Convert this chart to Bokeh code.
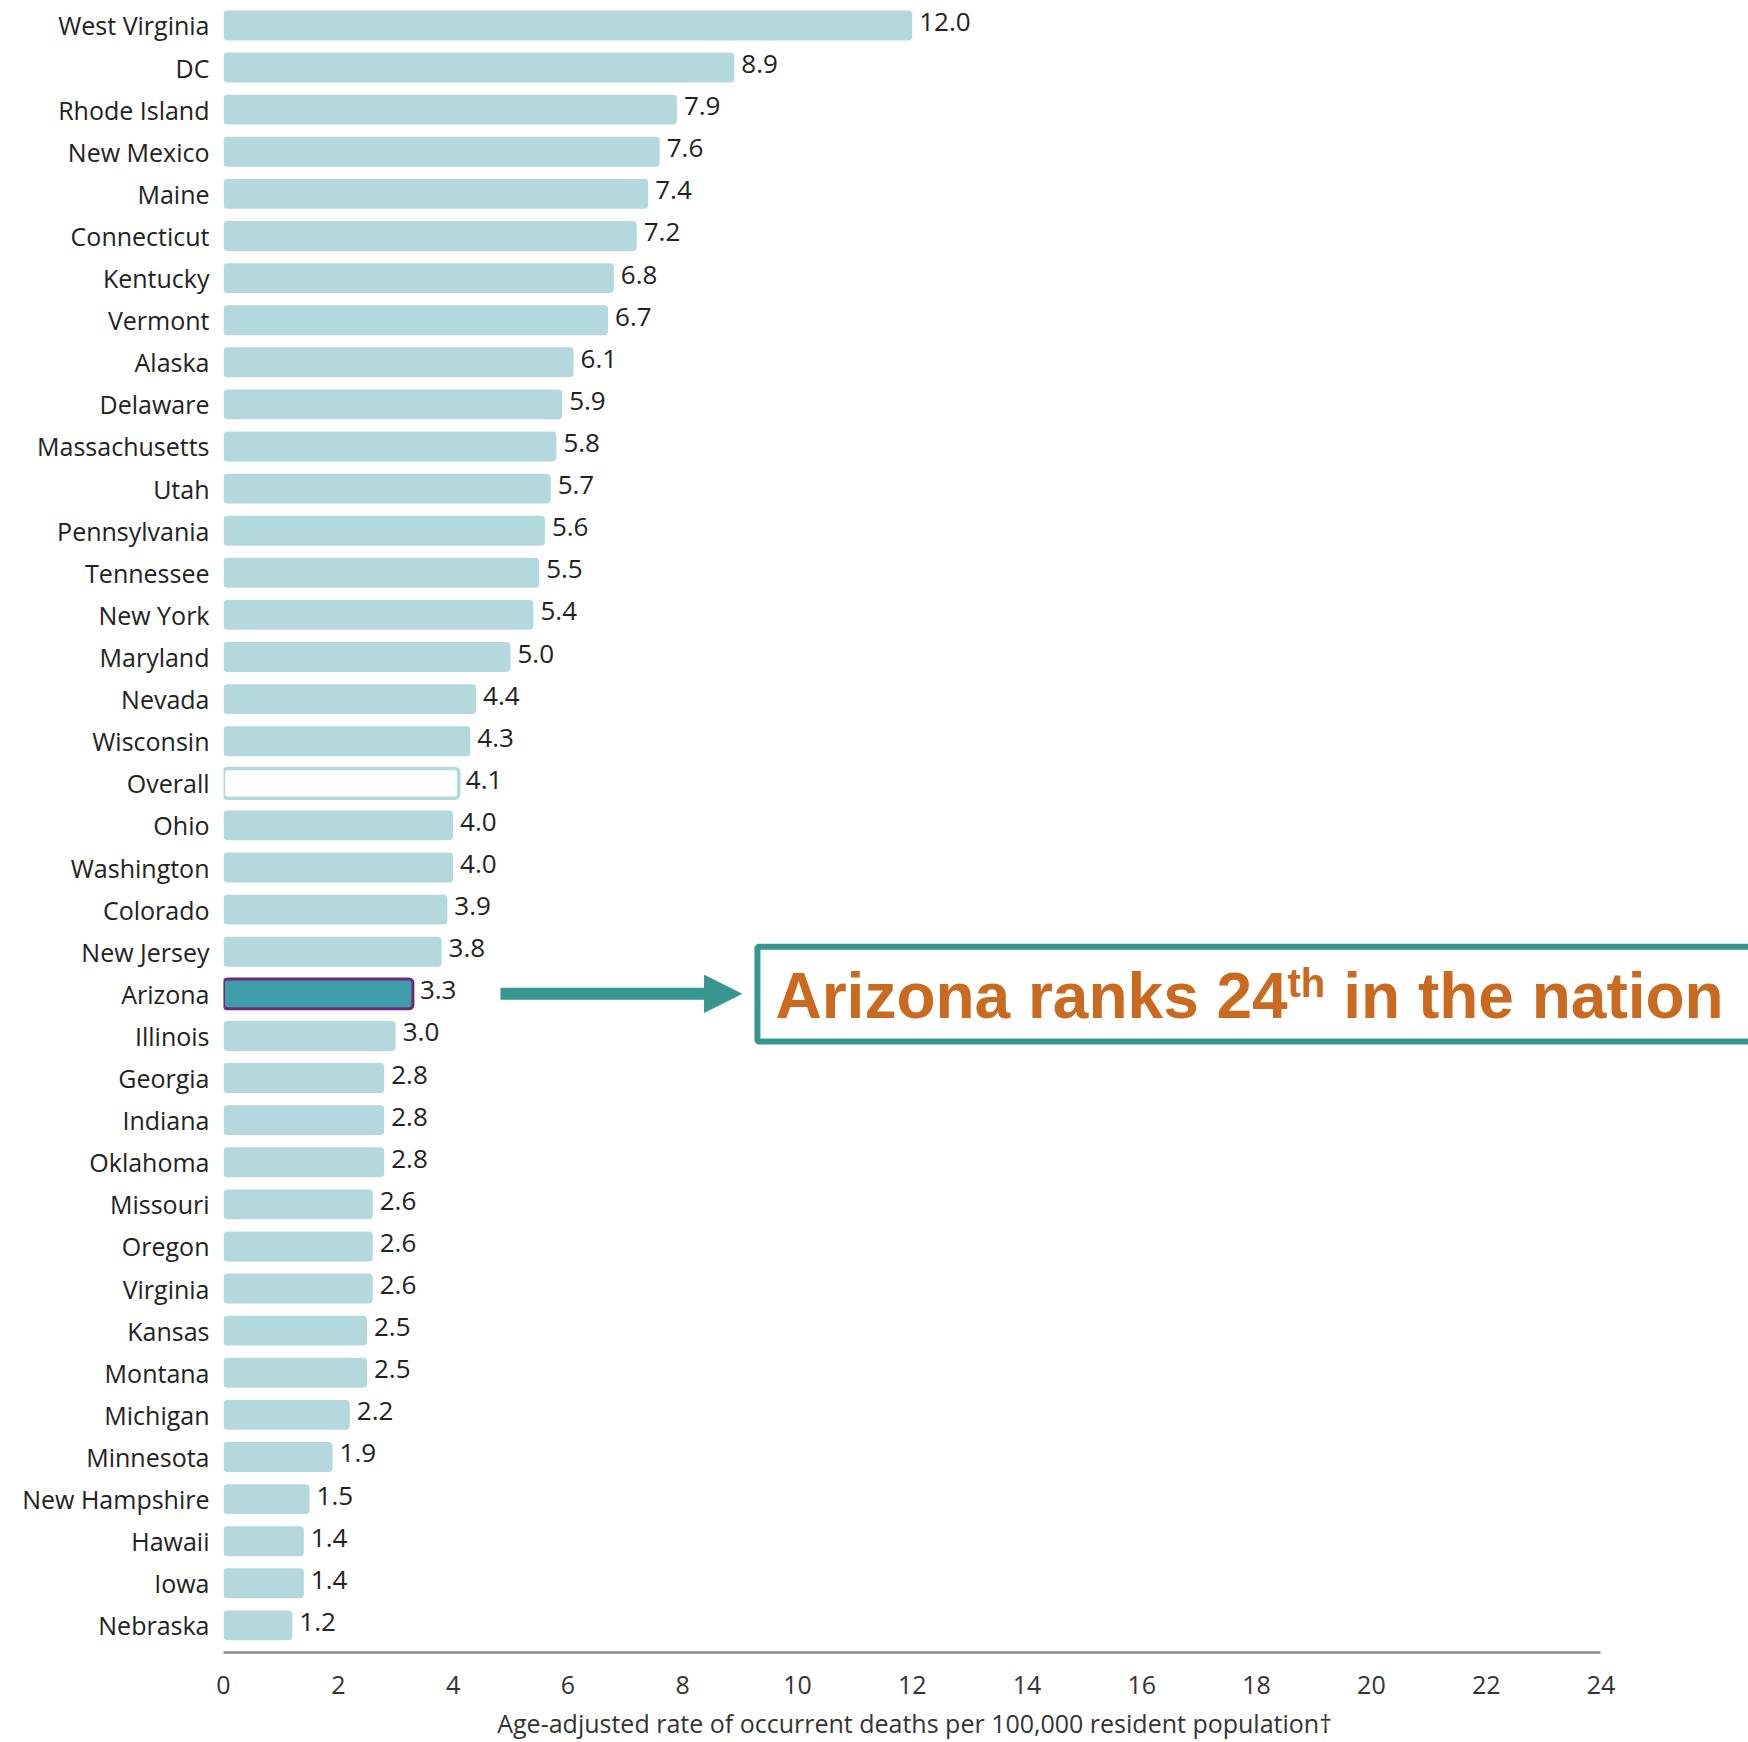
from bokeh.plotting import figure
from bokeh.models import (Range1d, FixedTicker, Arrow, NormalHead,
                          ColumnDataSource)
from bokeh.core.properties import value
from bokeh.embed import file_html
from bokeh.resources import INLINE

# ---------------- data ----------------
states = ["West Virginia", "DC", "Rhode Island", "New Mexico", "Maine",
          "Connecticut", "Kentucky", "Vermont", "Alaska", "Delaware",
          "Massachusetts", "Utah", "Pennsylvania", "Tennessee", "New York",
          "Maryland", "Nevada", "Wisconsin", "Overall", "Ohio", "Washington",
          "Colorado", "New Jersey", "Arizona", "Illinois", "Georgia",
          "Indiana", "Oklahoma", "Missouri", "Oregon", "Virginia", "Kansas",
          "Montana", "Michigan", "Minnesota", "New Hampshire", "Hawaii",
          "Iowa", "Nebraska"]
rates = [12.0, 8.9, 7.9, 7.6, 7.4, 7.2, 6.8, 6.7, 6.1, 5.9, 5.8, 5.7, 5.6,
         5.5, 5.4, 5.0, 4.4, 4.3, 4.1, 4.0, 4.0, 3.9, 3.8, 3.3, 3.0, 2.8,
         2.8, 2.8, 2.6, 2.6, 2.6, 2.5, 2.5, 2.2, 1.9, 1.5, 1.4, 1.4, 1.2]
x_ticks = [0, 2, 4, 6, 8, 10, 12, 14, 16, 18, 20, 22, 24]
highlight = "Arizona"
overall = "Overall"
axis_title = "Age-adjusted rate of occurrent deaths per 100,000 resident population\u2020"
callout_parts = ["Arizona ranks 24", "th", "in the nation"]

# ---------------- styles ----------------
FONT = "Open Sans"
BAR = "#b3d9de"
HL_FILL = "#3f9ca9"
HL_LINE = "#6b2a7d"
TEAL = "#389690"
ORANGE = "#c96a20"
TXT = "#222222"

n = len(states)
ypos = [n - 1 - i for i in range(n)]
fills, lines, lws = [], [], []
for s in states:
    if s == highlight:
        fills.append(HL_FILL); lines.append(HL_LINE); lws.append(3)
    elif s == overall:
        fills.append("#ffffff"); lines.append(BAR); lws.append(3.5)
    else:
        fills.append(BAR); lines.append(BAR); lws.append(0.01)

src = ColumnDataSource(dict(y=ypos, rate=rates, fill=fills, line=lines, lw=lws,
                            lab=[f"{v:.1f}" for v in rates]))

p = figure(width=1748, height=1742, output_backend="svg", toolbar_location=None,
           x_range=Range1d(0, 26.57), y_range=Range1d(-0.644, 38.593),
           min_border_left=223, min_border_right=0, min_border_top=0,
           min_border_bottom=87)
p.outline_line_color = None
p.grid.visible = False
p.background_fill_color = "white"

p.hbar(y="y", left=0, right="rate", height=0.71, source=src,
       fill_color="fill", line_color="line", line_width="lw", border_radius=4)

p.text(x="rate", y="y", text="lab", source=src, x_offset=7, y_offset=-3.5,
       text_baseline="middle", text_align="left", text_font=value(FONT),
       text_font_size="26px", text_color=TXT)

# y axis (state names)
p.yaxis.ticker = FixedTicker(ticks=ypos)
p.yaxis.major_label_overrides = {y: s for y, s in zip(ypos, states)}
p.yaxis.axis_line_color = None
p.yaxis.major_tick_line_color = None
p.yaxis.minor_tick_line_color = None
p.yaxis.major_tick_out = 0
p.yaxis.major_tick_in = 0
p.yaxis.major_label_standoff = 14
p.yaxis.major_label_text_font = FONT
p.yaxis.major_label_text_font_size = "25px"
p.yaxis.major_label_text_color = TXT

# x axis, drawn only over 0..24
p.xaxis.ticker = FixedTicker(ticks=x_ticks)
p.xaxis.bounds = (x_ticks[0], x_ticks[-1])
p.xaxis.axis_line_color = "#8c8c8c"
p.xaxis.axis_line_width = 2.5
p.xaxis.major_tick_line_color = None
p.xaxis.minor_tick_line_color = None
p.xaxis.major_tick_out = 0
p.xaxis.major_tick_in = 0
p.xaxis.major_label_standoff = 23
p.xaxis.major_label_text_font = FONT
p.xaxis.major_label_text_font_size = "25px"
p.xaxis.major_label_text_color = "#333333"
# trailing no-break spaces keep the title centred under the 0..24 axis
p.xaxis.axis_label = axis_title + "\u00a0" * 22
p.xaxis.axis_label_standoff = 9
p.xaxis.axis_label_text_font = FONT
p.xaxis.axis_label_text_font_style = "normal"
p.xaxis.axis_label_text_font_size = "25px"
p.xaxis.axis_label_text_color = "#333333"

# callout
az_y = ypos[states.index(highlight)]
p.quad(left=[9.303], right=[30], top=[az_y + 1.118], bottom=[az_y - 1.134],
       fill_color="white", line_color=TEAL, line_width=6)
p.segment(x0=[4.826], x1=[8.45], y0=[az_y], y1=[az_y], line_color=TEAL,
          line_width=12, line_cap="butt")
p.add_layout(Arrow(x_start=8.3, y_start=az_y, x_end=9.024, y_end=az_y,
                   line_color=None,
                   end=NormalHead(size=37, fill_color=TEAL, line_color=TEAL,
                                  line_width=1)))
p.text(x=[9.617], y=[az_y - 0.05], text=[callout_parts[0]],
       text_font=value("Liberation Sans"), text_font_style="bold",
       text_font_size="64px", text_color=ORANGE,
       text_baseline="middle", text_align="left")
p.text(x=[18.537], y=[az_y + 0.25], text=[callout_parts[1]],
       text_font=value("Liberation Sans"), text_font_style="bold",
       text_font_size="40px", text_color=ORANGE,
       text_baseline="middle", text_align="left")
p.text(x=[19.51], y=[az_y - 0.05], text=[callout_parts[2]],
       text_font=value("Liberation Sans"), text_font_style="bold",
       text_font_size="64px", text_color=ORANGE,
       text_baseline="middle", text_align="left")

open("out.html", "w").write(file_html(p, INLINE))
